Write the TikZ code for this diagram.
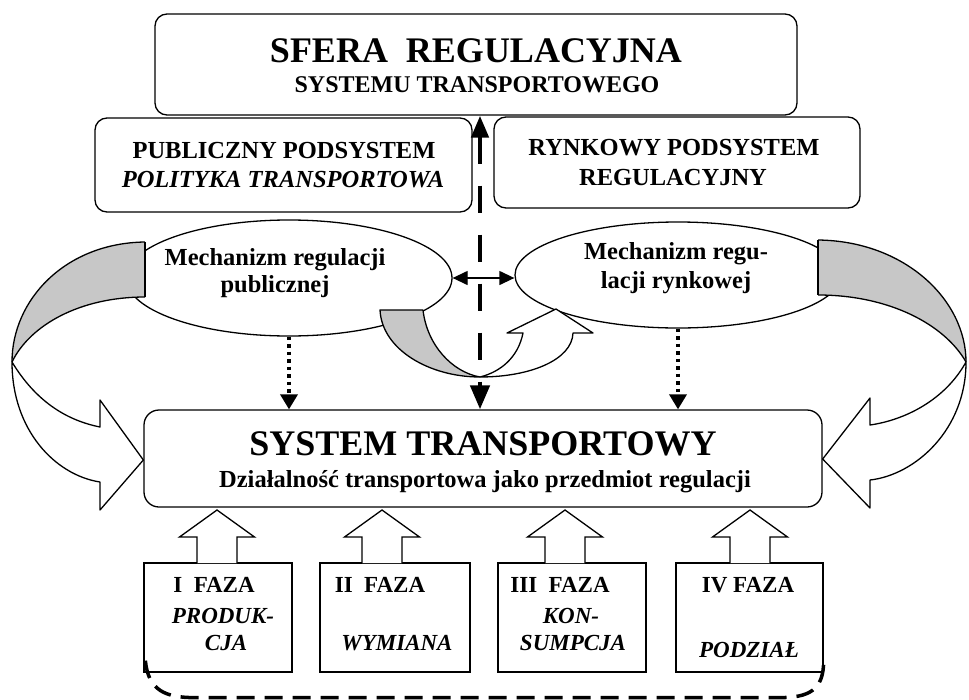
\documentclass[tikz,border=0pt]{standalone}
\usepackage{fontspec}
\setmainfont{Liberation Serif}
\usetikzlibrary{shapes.geometric,arrows.meta,calc}
\begin{document}
\begin{tikzpicture}[x=1pt,y=-1pt,
  rbox/.style={draw,line width=1.3pt,rounded corners=12pt,inner sep=0pt,fill=white},
  pbox/.style={draw,line width=1.3pt,inner sep=0pt,fill=white},
  ell/.style={draw,ellipse,line width=1.3pt,inner sep=0pt,fill=white},
  txt/.style={anchor=base,inner sep=0pt,font=\bfseries\fontsize{24.5}{28}\selectfont},
  itxt/.style={anchor=base,inner sep=0pt,font=\bfseries\itshape\fontsize{24.5}{28}\selectfont},
  big/.style={anchor=base,inner sep=0pt,font=\bfseries\fontsize{36}{40}\selectfont},
  ftxt/.style={anchor=base,inner sep=0pt,font=\bfseries\fontsize{23}{26}\selectfont},
  fitxt/.style={anchor=base,inner sep=0pt,font=\bfseries\itshape\fontsize{23}{26}\selectfont},
  bandline/.style={line width=1.3pt,line join=round},
  bandgray/.style={fill=black!22},
  heavydash/.style={line width=4.5pt,dash pattern=on 27pt off 22pt,
    {Triangle[length=22pt,width=17pt]}-{Triangle[length=24pt,width=19pt]}},
  dotarrow/.style={line width=3.5pt,dash pattern=on 3.5pt off 4pt,-{Triangle[length=15pt,width=17pt]}},
  dblarrow/.style={line width=1.3pt,{Triangle[length=15pt,width=14pt]}-{Triangle[length=15pt,width=14pt]}},
  bdash/.style={line width=3.5pt,dash pattern=on 18pt off 10pt},
  upblock/.style={draw,line width=1.3pt,fill=white,line join=miter}
]
\useasboundingbox (0,0) rectangle (969,699);

% top box
\node[rbox,minimum width=642pt,minimum height=101pt] (top) at (476,64.5) {};
\node[big] (t1) at (476,62) {SFERA\ \ REGULACYJNA};
\node[txt,font=\bfseries\fontsize{24}{28}\selectfont] (t2) at (477,92) {SYSTEMU TRANSPORTOWEGO};

% sub boxes
\node[rbox,minimum width=377pt,minimum height=94pt] (pub) at (283.5,165) {};
\node[txt] (pub1) at (284,158) {PUBLICZNY PODSYSTEM};
\node[itxt] (pub2) at (283,187) {POLITYKA TRANSPORTOWA};
\node[rbox,minimum width=366pt,minimum height=91pt] (ryn) at (677,162.5) {};
\node[txt] (ryn1) at (674,155) {RYNKOWY PODSYSTEM};
\node[txt] (ryn2) at (673,185) {REGULACYJNY};

% ellipses
\node[ell,minimum width=326pt,minimum height=116pt] (le) at (289,278) {};
\node[txt] (le1) at (275,265) {Mechanizm regulacji};
\node[txt] (le2) at (275,292) {publicznej};
\node[ell,minimum width=326pt,minimum height=106pt] (re) at (678,275) {};
\node[txt] (re1) at (676,259) {Mechanizm regu-};
\node[txt] (re2) at (676,288) {lacji rynkowej};

% main box
\node[rbox,rounded corners=15pt,minimum width=678pt,minimum height=97pt] (main) at (483,458.5) {};
\node[big] (m1) at (483,455) {SYSTEM TRANSPORTOWY};
\node[txt] (m2) at (485,487) {Działalność transportowa jako przedmiot regulacji};

% left twisted band arrow
\fill[bandgray] (145,242) .. controls (65,243) and (12,300) .. (12,362)
  .. controls (30,325) and (80,297) .. (145,297) -- cycle;
\filldraw[bandline,fill=white] (12,362) .. controls (12,430) and (55,475) .. (100,482)
  -- (100,510) -- (main.west |- 0,460) -- (100,400) -- (100,427)
  .. controls (65,420) and (35,400) .. (12,362);
\draw[bandline] (145,242) .. controls (65,243) and (12,300) .. (12,362);
\draw[bandline] (145,297) .. controls (80,297) and (30,325) .. (12,362);
\draw[bandline] (145,242) -- (145,297);

% right twisted band arrow
\fill[bandgray] (818,240) .. controls (905,241) and (966,300) .. (966,362)
  .. controls (945,325) and (890,295) .. (818,295) -- cycle;
\filldraw[bandline,fill=white] (966,362) .. controls (966,430) and (915,475) .. (870,480)
  -- (870,508) -- (main.east |- 0,459) -- (870,398) -- (870,425)
  .. controls (905,420) and (945,400) .. (966,362);
\draw[bandline] (818,240) .. controls (905,241) and (966,300) .. (966,362);
\draw[bandline] (818,295) .. controls (890,295) and (945,325) .. (966,362);
\draw[bandline] (818,240) -- (818,295);

% centre twisted arrow
\filldraw[bandline,bandgray] (380,310) .. controls (382,350) and (430,377) .. (480,377)
  .. controls (452,372) and (427,345) .. (423,310) -- cycle;
\filldraw[bandline,fill=white] (480,377) .. controls (530,377) and (572,360) .. (573,333)
  -- (593,333) -- (556,309) -- (507,333) -- (523,333)
  .. controls (518,358) and (500,372) .. (480,377) -- cycle;

% connectors
\coordinate (vx) at (480,0);
\draw[heavydash] (top.south -| vx) -- (main.north -| vx);
\draw[dotarrow] (le.south) -- (main.north -| le.south);
\draw[dotarrow] (re.south) -- (main.north -| re.south);
\draw[dblarrow] (le.east) -- (re.west |- le.east);

% phase boxes
\node[pbox,minimum width=148pt,minimum height=109pt] (p1) at (218,617.5) {};
\node[pbox,minimum width=150pt,minimum height=109pt] (p2) at (395,617.5) {};
\node[pbox,minimum width=148pt,minimum height=109pt] (p3) at (572,617.5) {};
\node[pbox,minimum width=147pt,minimum height=109pt] (p4) at (749.5,617.5) {};

\foreach \cx in {217,382,565,750}{
  \draw[upblock] (\cx-20,563) -- (\cx-20,537) -- (\cx-37.5,537) -- (\cx,510)
    -- (\cx+37.5,537) -- (\cx+20,537) -- (\cx+20,563);
}

\node[ftxt] (f1a) at (214,592) {I\ \ FAZA};
\node[fitxt] (f1b) at (223,623) {PRODUK-};
\node[fitxt] (f1c) at (226,650) {CJA};
\node[ftxt] (f2a) at (380,592) {II\ \ FAZA};
\node[fitxt] (f2b) at (397,650) {WYMIANA};
\node[ftxt] (f3a) at (560,592) {III\ \ FAZA};
\node[fitxt] (f3b) at (571,623) {KON-};
\node[fitxt] (f3c) at (573,650) {SUMPCJA};
\node[ftxt] (f4a) at (748,592) {IV FAZA};
\node[fitxt] (f4b) at (749,657) {PODZIAŁ};

% bottom dashed link
\coordinate (c1) at ($(p1.south west)+(2,-12)$);
\coordinate (c2) at ($(p4.south east)+(0,-12)$);
\draw[bdash] (c1) .. controls ($(c1)+(3,30)$) and ($(c1)+(20,37)$) .. ($(c1)+(50,37)$)
  -- ($(c2)+(-45,37)$) .. controls ($(c2)+(-15,37)$) and ($(c2)+(0,30)$) .. (c2);
\end{tikzpicture}
\end{document}
